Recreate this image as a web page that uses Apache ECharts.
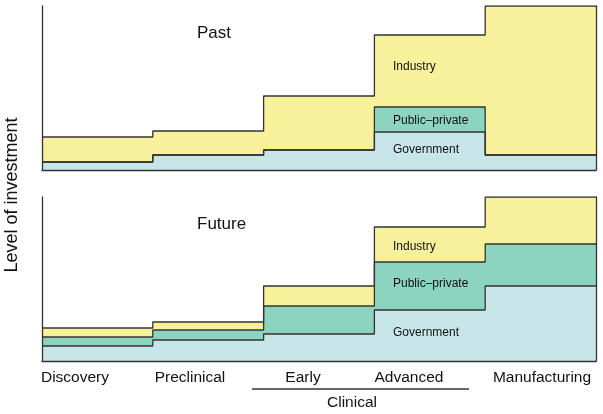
<!DOCTYPE html>
<html>
<head>
<meta charset="utf-8">
<script src="https://cdn.jsdelivr.net/npm/echarts@6/dist/echarts.min.js"></script>
<style>
  html, body { margin: 0; padding: 0; background: #fff; }
  #main { width: 603px; height: 414px; }
</style>
</head>
<body>
<div id="main"></div>
<script>
// stages along the pipeline
const stages = ['Discovery', 'Preclinical', 'Early', 'Advanced', 'Manufacturing'];
// level of investment per stage for each sector (layers sit on top of each other)
const pastGovernment = [8, 15, 20, 38, 15];
const pastPublicPrivate = [0, 0, 0, 25, 0];
const pastIndustry = [25, 24, 54, 72, 149];
const futureGovernment = [15, 21, 27, 51, 75];
const futurePublicPrivate = [9, 10, 28, 48, 42];
const futureIndustry = [9, 8, 20, 35, 47];

const yMax = 164;
const font = '"Liberation Sans", Arial, sans-serif';
const lineColor = '#333';
const colors = { gov: '#c8e6ea', pp: '#8dd4c0', ind: '#f8f19c' };

// running totals so each layer's top edge sits on the one below
function addUp(a, b) {
  return a.map((v, i) => v + b[i]);
}

// each stage is a step from i to i+1
function steps(vals) {
  const pts = vals.map((v, i) => [i, v]);
  pts.push([vals.length, vals[vals.length - 1]]);
  return pts;
}

function layer(name, vals, color, idx) {
  return {
    name: name,
    type: 'line',
    step: 'end',
    xAxisIndex: idx,
    yAxisIndex: idx * 2,
    data: steps(vals),
    symbol: 'none',
    lineStyle: { color: lineColor, width: 1.3 },
    areaStyle: { color: color, opacity: 1, origin: 'start' },
    silent: true
  };
}

function panel(gov, pp, ind, idx) {
  const govTop = gov;
  const ppTop = addUp(gov, pp);
  const indTop = addUp(ppTop, ind);
  // drawn from the top layer down so lower layers cover the fill beneath
  return [
    layer('Industry', indTop, colors.ind, idx),
    layer('Public–private', ppTop, colors.pp, idx),
    layer('Government', govTop, colors.gov, idx)
  ];
}

const myChart = echarts.init(document.getElementById('main'));

const grids = [
  { left: 42, right: 7, top: 6, height: 164 },
  { left: 42, right: 7, top: 197, height: 164 }
];

const xAxes = grids.map((g, i) => ({
  type: 'value', gridIndex: i, min: 0, max: stages.length,
  axisLine: { show: true, lineStyle: { color: lineColor, width: 1.3 } },
  axisTick: { show: false }, axisLabel: { show: false }, splitLine: { show: false },
  z: 10
}));

const yAxes = [];
grids.forEach((g, i) => {
  ['left', 'right'].forEach(pos => {
    yAxes.push({
      type: 'value', gridIndex: i, position: pos, min: 0, max: yMax,
      axisLine: { show: true, lineStyle: { color: lineColor, width: 1.3 } },
      axisTick: { show: false }, axisLabel: { show: false }, splitLine: { show: false },
      z: 10
    });
  });
});

const labelPos = [75, 190, 303, 409, 542];

function txt(x, y, text, size, align, rotation) {
  return {
    type: 'text', x: x, y: y, rotation: rotation || 0,
    style: { text: text, fill: '#111', font: size + 'px ' + font, align: align || 'center', verticalAlign: 'middle' },
    z: 100
  };
}

const graphics = [
  txt(197, 33, 'Past', 17, 'left'),
  txt(197, 224, 'Future', 17, 'left'),
  txt(393, 67, 'Industry', 12, 'left'),
  txt(393, 121, 'Public–private', 12, 'left'),
  txt(393, 150, 'Government', 12, 'left'),
  txt(393, 247, 'Industry', 12, 'left'),
  txt(393, 284, 'Public–private', 12, 'left'),
  txt(393, 333, 'Government', 12, 'left'),
  txt(12, 195, 'Level of investment', 18, 'center', Math.PI / 2),
  txt(352, 403, 'Clinical', 15.5),
  {
    type: 'line', shape: { x1: 252, y1: 389, x2: 469, y2: 389 },
    style: { stroke: '#333', lineWidth: 1.3 }
  }
];
stages.forEach((s, i) => graphics.push(txt(labelPos[i], 378, s, 15.5)));

myChart.setOption({
  animation: false,
  grid: grids,
  xAxis: xAxes,
  yAxis: yAxes,
  series: panel(pastGovernment, pastPublicPrivate, pastIndustry, 0)
    .concat(panel(futureGovernment, futurePublicPrivate, futureIndustry, 1)),
  graphic: graphics
});
</script>
</body>
</html>
